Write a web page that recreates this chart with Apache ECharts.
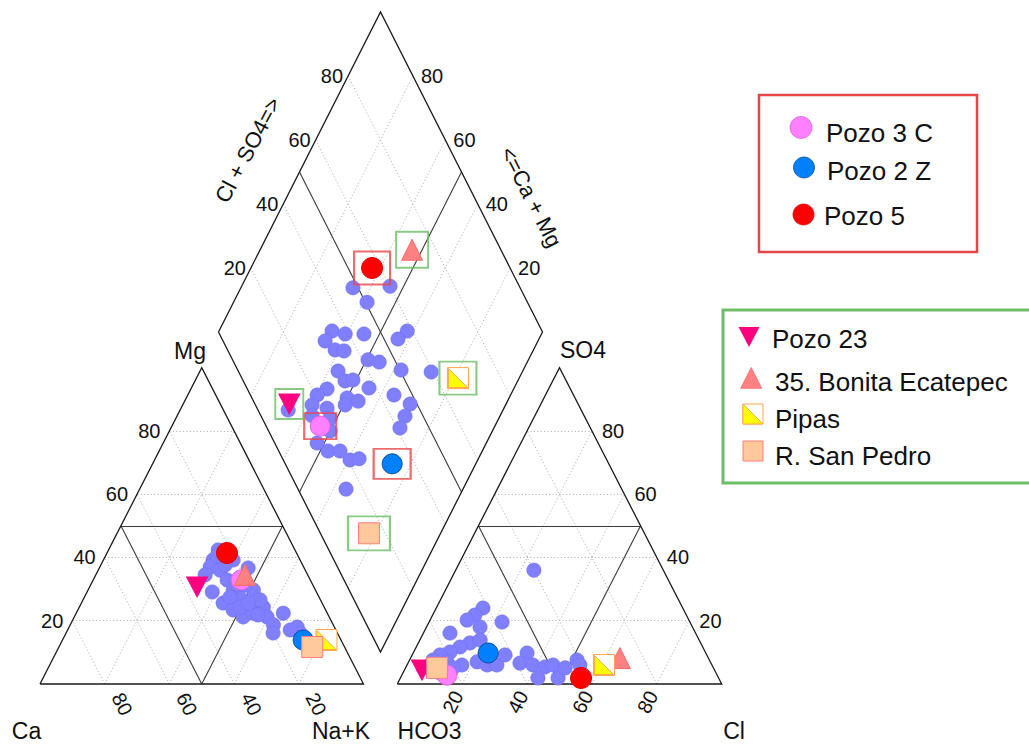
<!DOCTYPE html>
<html><head><meta charset="utf-8">
<script src="https://cdn.jsdelivr.net/npm/echarts@6/dist/echarts.min.js"></script>
<style>html,body{margin:0;padding:0;background:#fff;}#c{width:1029px;height:745px;}</style>
</head><body><div id="c"></div>
<script>
// ---------------- DATA ----------------
const tickValues = [20, 40, 60, 80];
// cation triangle samples: [Mg %, Na+K %]  (Ca = 100 - Mg - Na+K)
const cationBlue = [[42.4,33.9],[39.2,33.9],[37.0,34.1],[36.0,37.7],[39.2,40.1],[36.7,46.0],[34.5,33.8],[32.9,41.4],[29.1,38.7],[29.7,44.9],[29.7,51.1],[27.2,48.3],[25.6,43.8],[23.4,48.0],[24.3,53.8],[24.3,56.9],[21.2,52.2],[21.2,59.6],[22.4,64.0],[18.7,62.8],[22.4,54.7],[16.1,64.0],[18.0,70.5],[16.1,72.4],[27.5,45.0],[24.3,49.8],[37.6,38.4],[31.3,45.6],[26.6,54.7],[25.6,51.5],[40.5,34.5],[31.3,47.8],[21.8,56.5],[17.1,68.8]];
// anion triangle samples: [SO4 %, Cl %]  (HCO3 = 100 - SO4 - Cl)
const anionBlue = [[36.0,24.1],[24.0,14.4],[21.8,13.0],[20.2,11.4],[18.0,16.5],[19.6,22.5],[16.1,8.2],[13.0,15.9],[13.9,18.6],[11.7,13.5],[10.1,11.2],[9.2,8.6],[7.6,7.2],[7.0,11.8],[6.0,16.9],[7.0,21.1],[6.0,24.7],[6.0,27.7],[9.2,28.6],[9.8,35.1],[6.6,34.5],[6.0,38.8],[5.4,42.8],[6.0,45.0],[1.9,42.4],[1.9,48.6],[5.1,49.2],[7.6,51.6],[6.0,53.3],[5.1,5.4],[5.1,14.6],[3.5,11.4]];
// diamond samples: [Cl+SO4 %, Na+K %]
const diamondBlue = [[48.4,34.6],[60.1,45.8],[50.5,41.2],[35.2,34.9],[38.8,39.4],[44.6,45.2],[58.4,58.1],[54.3,56.5],[31.5,34.3],[33.2,38.8],[35.8,41.7],[41.8,50.5],[44.9,54.3],[50.4,62.3],[59.4,71.9],[30.8,43.0],[31.4,46.7],[34.0,49.0],[24.6,42.4],[20.6,40.3],[37.7,55.2],[44.3,64.0],[29.4,50.0],[32.3,53.9],[27.7,50.5],[17.5,40.3],[21.6,45.4],[47.9,70.4],[44.4,70.7],[41.0,71.0],[19.0,49.9],[13.1,47.8],[15.2,52.4],[18.9,56.1],[20.6,60.6],[23.6,63.2],[14.8,63.9],[9.3,33.7],[15.8,42.0],[21.0,47.9]];
const wellNames = ['Pozo 3 C','Pozo 2 Z','Pozo 5','Pozo 23','35. Bonita Ecatepec','Pipas','R. San Pedro'];
const wellCation = [[32.9,45.7],[13.9,74.4],[41.4,37.1],[30.7,33.2],[34.5,46.1],[13.9,81.6],[11.7,78.3]];
const wellAnion = [[2.8,13.9],[9.8,23.1],[1.9,55.7],[4.4,5.4],[8.2,64.5],[6.0,60.7],[5.1,9.7]];
const wellDiamond = [[16.7,46.1],[33.0,74.2],[57.4,37.4],[10.6,33.1],[72.6,46.9],[66.7,81.1],[15.0,77.9]];
const groupRed = ['Pozo 3 C','Pozo 2 Z','Pozo 5'];
const groupGreen = ['Pozo 23','35. Bonita Ecatepec','Pipas','R. San Pedro'];

// ---------------- LAYOUT / STYLE ----------------
const FONT = '"Liberation Sans", Arial, Helvetica, sans-serif';
const G = { base:684, catX0:40, catSide:323.5, anX0:397.3, anSide:324.4, triH:316.3,
  dL:[218.5,332], dT:[380.5,12], dB:[380.5,652] };
const RED_BOX = '#e8454a', GREEN_BOX = '#6cbd66';
const wellStyle = {
  'Pozo 3 C': {symbol:'circle', size:20, color:'#ff80ff', border:'#e060e0', box:[32,26], boxColor:RED_BOX},
  'Pozo 2 Z': {symbol:'circle', size:20, color:'#0080ff', border:'#0b4f9a', box:[37,30], boxColor:RED_BOX},
  'Pozo 5': {symbol:'circle', size:21, color:'#ff0000', border:'#e00000', box:[36,33], boxColor:RED_BOX},
  'Pozo 23': {symbol:'triangle', rotate:180, size:[21,20], color:'#ff0080', border:'#ff0080', box:[28,30], boxColor:GREEN_BOX},
  '35. Bonita Ecatepec': {symbol:'triangle', size:[21,21], color:'#ff8080', border:'#ff6a6a', box:[32,36], boxColor:GREEN_BOX},
  'Pipas': {symbol:'rect', size:[21,21], color:'#ffffff', border:'#ffa64d', box:[37,33], boxColor:GREEN_BOX},
  'R. San Pedro': {symbol:'rect', size:[21,21], color:'#ffc99c', border:'#ff7f7f', box:[42,34], boxColor:GREEN_BOX}
};
const drawOrder = ['Pozo 23','Pozo 2 Z','Pozo 3 C','Pozo 5','35. Bonita Ecatepec','Pipas','R. San Pedro'];

function cat(mg, nak){ return [G.catX0 + G.catSide*(nak + mg/2)/100, G.base - G.triH*mg/100]; }
function an(so4, cl){ return [G.anX0 + G.anSide*(cl + so4/2)/100, G.base - G.triH*so4/100]; }
function dia(a, b){ a/=100; b/=100;
  return [G.dL[0] + a*(G.dT[0]-G.dL[0]) + b*(G.dB[0]-G.dL[0]),
          G.dL[1] + a*(G.dT[1]-G.dL[1]) + b*(G.dB[1]-G.dL[1])]; }

// ---------------- FRAME LINES ----------------
const outline = [], dotted = [], inner = [];
outline.push({coords:[cat(0,0),cat(0,100),cat(100,0),cat(0,0)]});
outline.push({coords:[an(0,0),an(0,100),an(100,0),an(0,0)]});
outline.push({coords:[dia(0,0),dia(100,0),dia(100,100),dia(0,100),dia(0,0)]});
tickValues.forEach(v=>{
  dotted.push({coords:[cat(v,0),cat(v,100-v)]});
  dotted.push({coords:[cat(0,v),cat(100-v,v)]});
  dotted.push({coords:[cat(0,100-v),cat(100-v,0)]});
  dotted.push({coords:[an(v,0),an(v,100-v)]});
  dotted.push({coords:[an(0,v),an(100-v,v)]});
  dotted.push({coords:[an(0,100-v),an(100-v,0)]});
  dotted.push({coords:[dia(v,0),dia(v,100)]});
  dotted.push({coords:[dia(0,v),dia(100,v)]});
});
inner.push({coords:[cat(50,0),cat(50,50)]},{coords:[cat(0,50),cat(50,50)]},{coords:[cat(0,50),cat(50,0)]});
inner.push({coords:[an(50,0),an(50,50)]},{coords:[an(0,50),an(50,50)]},{coords:[an(0,50),an(50,0)]});
inner.push({coords:[dia(50,0),dia(50,100)]},{coords:[dia(0,50),dia(100,50)]});

const series = [
  {type:'lines', coordinateSystem:'cartesian2d', polyline:false, data:dotted, silent:true, z:1,
   lineStyle:{color:'#b8b8b8', width:1, type:[1.2,2.2], opacity:1}},
  {type:'lines', coordinateSystem:'cartesian2d', polyline:false, data:inner, silent:true, z:2,
   lineStyle:{color:'#3a3a3a', width:1.1, opacity:1}},
  {type:'lines', coordinateSystem:'cartesian2d', polyline:true, data:outline, silent:true, z:2,
   lineStyle:{color:'#1a1a1a', width:1.3, opacity:1}},
  {type:'scatter', name:'samples', z:3, symbol:'circle', symbolSize:14.5,
   itemStyle:{color:'#8080ff', borderColor:'rgba(100,100,230,0.6)', borderWidth:0.6, opacity:1},
   data: cationBlue.map(p=>cat(p[0],p[1])).concat(anionBlue.map(p=>an(p[0],p[1])), diamondBlue.map(p=>dia(p[0],p[1])))}
];
drawOrder.forEach((name, k)=>{
  const i = wellNames.indexOf(name), s = wellStyle[name];
  const pts = [cat(...wellCation[i]), an(...wellAnion[i]), dia(...wellDiamond[i])];
  series.push({type:'scatter', name, z:4+k, symbol:s.symbol, symbolRotate:s.rotate||0, symbolSize:s.size,
    itemStyle:{color:s.color, borderColor:s.border, borderWidth:1, opacity:1}, data:pts});
  if (name === 'Pipas') {
    series.push({type:'scatter', name:'Pipas-fill', z:4+k, symbol:'path://M0,0L0,10L10,10Z', symbolSize:[19,19],
      itemStyle:{color:'#ffff00', borderColor:'#ffa64d', borderWidth:1, opacity:1}, data:pts});
  }
});
// boxes around diamond points
const boxData = wellNames.map((n,i)=>({value:dia(...wellDiamond[i]), symbolSize:wellStyle[n].box,
  itemStyle:{color:'rgba(0,0,0,0)', borderColor:wellStyle[n].boxColor, borderWidth:2}}));
series.push({type:'scatter', name:'boxes', z:20, symbol:'rect', data:boxData});

const chart = echarts.init(document.getElementById('c'), null, {renderer:'svg'});
chart.setOption({
  animation:false, backgroundColor:'#ffffff',
  grid:{left:0,right:0,top:0,bottom:0},
  xAxis:{type:'value', min:0, max:1029, show:false},
  yAxis:{type:'value', min:0, max:745, inverse:true, show:false},
  series
});

// ---------------- TEXT ----------------
const px = p => chart.convertToPixel({gridIndex:0}, p);
const deg = d => d*Math.PI/180;
function txt(t, p, size, align, rot){
  return {type:'text', x:p[0], y:p[1], rotation:rot||0, z:50,
    style:{text:t, font:size+'px '+FONT, fill:'#111', align:align||'center', textAlign:align||'center',
      verticalAlign:'middle', textVerticalAlign:'middle'}};
}
const graphics = [];
tickValues.forEach(v=>{
  let p;
  p = px(cat(v,0)); graphics.push(txt(String(v), [p[0]-9, p[1]], 20, 'right'));
  p = px(cat(0,100-v)); graphics.push(txt(String(v), [p[0]+17.5, p[1]+20], 20, 'center', deg(-63)));
  p = px(an(0,v)); graphics.push(txt(String(v), [p[0]-9.3, p[1]+18], 20, 'center', deg(63)));
  p = px(an(v,100-v)); graphics.push(txt(String(v), [p[0]+10, p[1]], 20, 'left'));
  p = px(dia(v,0)); graphics.push(txt(String(v), [p[0]-5, p[1]], 20, 'right'));
  p = px(dia(100,100-v)); graphics.push(txt(String(v), [p[0]+8, p[1]], 20, 'left'));
});
graphics.push(txt('Mg', [190,351], 23, 'center'));
graphics.push(txt('SO4', [560,350], 23, 'left'));
graphics.push(txt('Ca', [26.5,730.5], 23, 'center'));
graphics.push(txt('Na+K', [341,730.5], 23, 'center'));
graphics.push(txt('HCO3', [429.5,730.5], 23, 'center'));
graphics.push(txt('Cl', [734,730.5], 23, 'center'));
graphics.push(txt('Cl + SO4=>', [248,150], 22, 'center', deg(62)));
graphics.push(txt('<=Ca + Mg', [531,197], 22, 'center', deg(-63)));

// legend boxes
graphics.push({type:'rect', shape:{x:759,y:95,width:218,height:157}, z:40,
  style:{fill:'none', stroke:RED_BOX, lineWidth:2.5}});
graphics.push({type:'rect', shape:{x:723,y:310,width:320,height:173}, z:40,
  style:{fill:'none', stroke:GREEN_BOX, lineWidth:3}});
// red legend items
const legRed = [[801,127.5,11,826,133],[804,167.5,10.5,827,171],[803.5,214.5,10.5,824,216]];
legRed.forEach((r,i)=>{
  const s = wellStyle[groupRed[i]];
  graphics.push({type:'circle', shape:{cx:r[0],cy:r[1],r:r[2]}, z:41, style:{fill:s.color, stroke:s.border, lineWidth:0.8}});
  graphics.push(txt(groupRed[i], [r[3], r[4]], 26, 'left'));
});
// green legend items
const sP = wellStyle;
graphics.push({type:'polygon', shape:{points:[[738.5,327],[759.5,327],[749,347]]}, z:41, style:{fill:sP['Pozo 23'].color}});
graphics.push(txt(groupGreen[0], [772,339], 26, 'left'));
graphics.push({type:'polygon', shape:{points:[[751.2,367.5],[761.7,388.3],[740.7,388.3]]}, z:41, style:{fill:sP['35. Bonita Ecatepec'].color, stroke:sP['35. Bonita Ecatepec'].border, lineWidth:0.8}});
graphics.push(txt(groupGreen[1], [775,382], 26, 'left'));
graphics.push({type:'rect', shape:{x:743,y:404,width:20,height:20}, z:41, style:{fill:'#ffffff', stroke:sP['Pipas'].border, lineWidth:1}});
graphics.push({type:'polygon', shape:{points:[[743,404],[743,424],[763,424]]}, z:42, style:{fill:'#ffff00', stroke:sP['Pipas'].border, lineWidth:1}});
graphics.push(txt(groupGreen[2], [775,419], 26, 'left'));
graphics.push({type:'rect', shape:{x:743,y:441,width:20,height:20}, z:41, style:{fill:sP['R. San Pedro'].color, stroke:sP['R. San Pedro'].border, lineWidth:1}});
graphics.push(txt(groupGreen[3], [775,456], 26, 'left'));

chart.setOption({graphic:{elements:graphics}});
</script></body></html>
